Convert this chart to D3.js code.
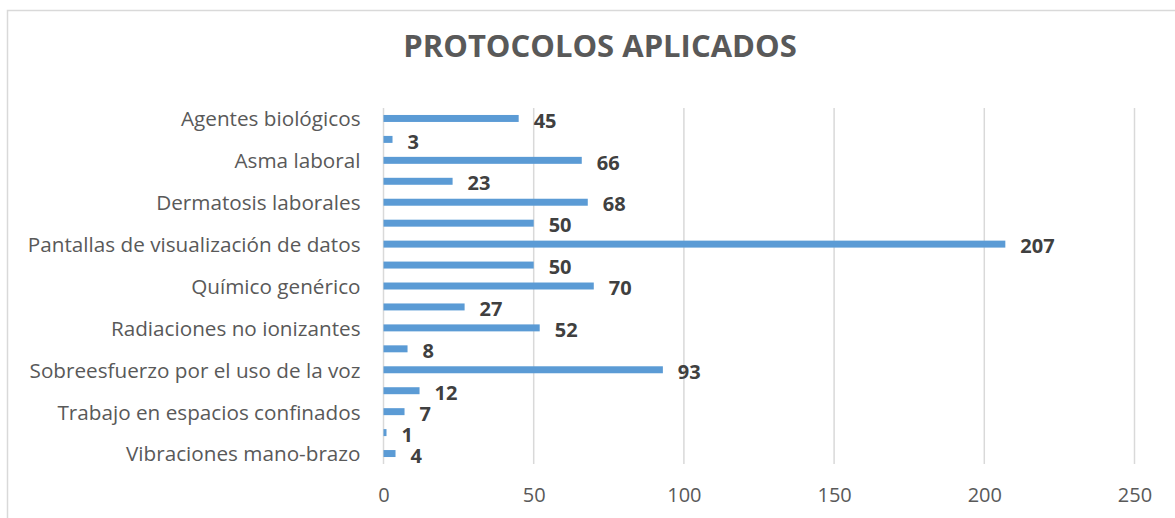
<!DOCTYPE html>
<html>
<head>
<meta charset="utf-8">
<script src="https://cdn.jsdelivr.net/npm/d3@7"></script>
<style>
  body { margin: 0; background: #fff; }
  svg { display: block; font-family: "Open Sans", sans-serif; }
</style>
</head>
<body>
<div id="chart"></div>
<script>
// categories top to bottom (only every other label is printed, like the original)
const categories = ["Agentes biológicos", "", "Asma laboral", "", "Dermatosis laborales", "",
    "Pantallas de visualización de datos", "", "Químico genérico", "", "Radiaciones no ionizantes", "",
    "Sobreesfuerzo por el uso de la voz", "", "Trabajo en espacios confinados", "", "Vibraciones mano-brazo"];
const values = [45, 3, 66, 23, 68, 50, 207, 50, 70, 27, 52, 8, 93, 12, 7, 1, 4];
const xTicks = [0, 50, 100, 150, 200, 250];
const title = "PROTOCOLOS APLICADOS";

const width = 1175, height = 518;
const margin = {top: 108, right: 40.5, bottom: 54, left: 383.5};

const svg = d3.select("#chart").append("svg")
    .attr("width", width)
    .attr("height", height);

// chart border (only top and left edges are inside the picture)
svg.append("path")
    .attr("d", "M7.5,518V10.5H1175")
    .attr("fill", "none")
    .attr("stroke", "#d9d9d9")
    .attr("stroke-width", 1.5);

svg.append("text")
    .attr("x", 600)
    .attr("y", 57)
    .attr("text-anchor", "middle")
    .attr("font-size", 31)
    .attr("font-weight", "bold")
    .attr("fill", "#595959")
    .text(title);

const x = d3.scaleLinear()
    .domain([0, 250])
    .range([margin.left, width - margin.right]);

const y = d3.scaleBand()
    .domain(d3.range(values.length))
    .range([margin.top, height - margin.bottom])
    .paddingInner(0.667)
    .paddingOuter(0.333);

// gridlines
svg.append("g")
    .selectAll("line")
    .data(xTicks)
    .join("line")
    .attr("x1", d => x(d)).attr("x2", d => x(d))
    .attr("y1", margin.top).attr("y2", height - margin.bottom)
    .attr("stroke", "#d9d9d9")
    .attr("stroke-width", 1.5);

// x tick labels
const xAxis = svg.append("g")
    .attr("transform", `translate(0,${height - margin.bottom})`)
    .call(d3.axisBottom(x).tickValues(xTicks).tickSize(0).tickPadding(0));
xAxis.select(".domain").remove();
xAxis.selectAll("text")
    .attr("y", 31)
    .attr("dy", "0.35em")
    .attr("font-family", "Open Sans, sans-serif")
    .attr("font-size", 20)
    .attr("fill", "#595959");

// category labels
const yAxis = svg.append("g")
    .attr("transform", `translate(${margin.left},0)`)
    .call(d3.axisLeft(y).tickFormat(i => categories[i]).tickSize(0).tickPadding(23));
yAxis.select(".domain").remove();
yAxis.selectAll("text")
    .attr("dy", "0.38em")
    .attr("font-family", "Open Sans, sans-serif")
    .attr("font-size", 20.7)
    .attr("fill", "#595959");

// bars
svg.append("g")
    .selectAll("rect")
    .data(values)
    .join("rect")
    .attr("x", x(0))
    .attr("y", (d, i) => y(i))
    .attr("width", d => x(d) - x(0))
    .attr("height", y.bandwidth())
    .attr("fill", "#5b9bd5");

// value labels
svg.append("g")
    .selectAll("text")
    .data(values)
    .join("text")
    .attr("x", d => x(d) + 15)
    .attr("y", (d, i) => y(i) + y.bandwidth() / 2 + 2)
    .attr("dy", "0.36em")
    .attr("font-size", 20)
    .attr("font-weight", "bold")
    .attr("fill", "#404040")
    .text(d => d);
</script>
</body>
</html>
